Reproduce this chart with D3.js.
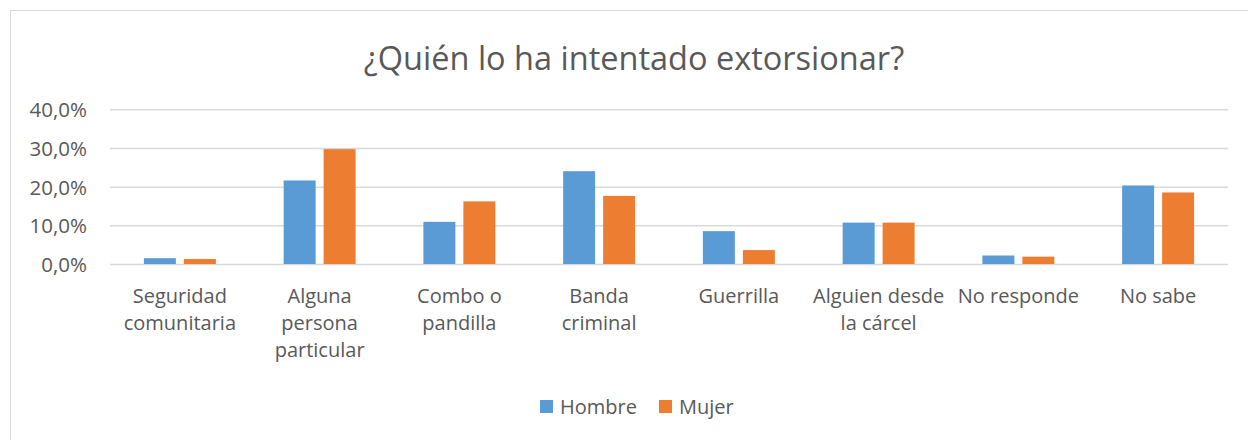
<!DOCTYPE html>
<html>
<head>
<meta charset="utf-8">
<script src="https://cdn.jsdelivr.net/npm/d3@7"></script>
<style>
  body { margin: 0; background: #fff; }
  svg { display: block; font-family: "Open Sans", sans-serif; }
  .grid line { stroke: #d9d9d9; stroke-width: 1.5; }
  .grid .domain { display: none; }
  .tick text { fill: #595959; }
</style>
</head>
<body>
<svg id="svg" width="1248" height="440"></svg>
<script>
// datos del grafico
var categorias = [
  'Seguridad\ncomunitaria',
  'Alguna\npersona\nparticular',
  'Combo o\npandilla',
  'Banda\ncriminal',
  'Guerrilla',
  'Alguien desde\nla cárcel',
  'No responde',
  'No sabe'
];
var series = ['Hombre', 'Mujer'];
var hombre = [1.5, 21.6, 10.9, 24.0, 8.5, 10.7, 2.2, 20.3];
var mujer = [1.3, 29.7, 16.2, 17.6, 3.6, 10.7, 1.9, 18.5];
var ticksY = [0, 10, 20, 30, 40];
var colores = ['#5b9bd5', '#ed7d31'];

var sample = categorias.map((c, i) => ({ elemento: c, valores: [hombre[i], mujer[i]] }));

var svg = d3.select('svg');

// borde del area del grafico
svg.append('rect')
  .attr('x', 10.5)
  .attr('y', 10.5)
  .attr('width', 1260)
  .attr('height', 460)
  .attr('fill', 'none')
  .attr('stroke', '#d9d9d9')
  .attr('stroke-width', 1);

var plotLeft = 110, plotRight = 1228, plotTop = 109.3, plotBottom = 264;

var xScale = d3.scaleBand()
  .domain(categorias)
  .range([plotLeft, plotRight])
  .paddingInner(0.485)
  .paddingOuter(0.2425);

var xSub = d3.scaleBand()
  .domain(series)
  .range([0, xScale.bandwidth()])
  .paddingInner(0.2);

var yScale = d3.scaleLinear()
  .domain([0, 40])
  .range([plotBottom, plotTop]);

// lineas horizontales
svg.append('g')
  .attr('class', 'grid')
  .attr('transform', `translate(${plotLeft}, 0)`)
  .call(d3.axisLeft(yScale)
    .tickValues(ticksY)
    .tickSize(-(plotRight - plotLeft))
    .tickFormat(''));

// etiquetas eje y
svg.append('g')
  .attr('transform', `translate(87, 0)`)
  .call(d3.axisLeft(yScale)
    .tickValues(ticksY)
    .tickSize(0)
    .tickPadding(0)
    .tickFormat(d => d.toFixed(1).replace('.', ',') + '%'))
  .call(g => g.select('.domain').remove())
  .selectAll('text')
  .attr('font-size', 20.5)
  .attr('font-family', '"Open Sans", sans-serif')
  .attr('dy', '0.36em');

// barras
var barGroups = svg.selectAll('.grupo')
  .data(sample)
  .enter()
  .append('g')
  .attr('class', 'grupo')
  .attr('transform', d => `translate(${xScale(d.elemento)}, 0)`);

barGroups.selectAll('rect')
  .data(d => d.valores.map((v, i) => ({ serie: series[i], value: v })))
  .enter()
  .append('rect')
  .attr('x', d => xSub(d.serie))
  .attr('y', d => yScale(d.value))
  .attr('width', xSub.bandwidth())
  .attr('height', d => plotBottom - yScale(d.value))
  .attr('fill', d => colores[series.indexOf(d.serie)]);

// etiquetas eje x
var xLabels = svg.append('g')
  .selectAll('text')
  .data(categorias)
  .enter()
  .append('text')
  .attr('x', d => xScale(d) + xScale.bandwidth() / 2)
  .attr('y', 303)
  .attr('text-anchor', 'middle')
  .attr('font-size', 20)
  .attr('fill', '#595959');

xLabels.selectAll('tspan')
  .data(d => d.split('\n'))
  .enter()
  .append('tspan')
  .attr('x', function () { return d3.select(this.parentNode).attr('x'); })
  .attr('dy', (d, i) => i === 0 ? 0 : 27)
  .text(d => d);

// titulo
svg.append('text')
  .attr('x', 634)
  .attr('y', 70)
  .attr('text-anchor', 'middle')
  .attr('font-size', 32.5)
  .attr('fill', '#595959')
  .text('¿Quién lo ha intentado extorsionar?');

// leyenda
var legendX = [540, 659];
var legend = svg.selectAll('.leyenda')
  .data(series)
  .enter()
  .append('g')
  .attr('class', 'leyenda')
  .attr('transform', (d, i) => `translate(${legendX[i]}, 400)`);

legend.append('rect')
  .attr('width', 13)
  .attr('height', 13)
  .attr('fill', (d, i) => colores[i]);

legend.append('text')
  .attr('x', 20)
  .attr('y', 14)
  .attr('font-size', 20)
  .attr('fill', '#595959')
  .text(d => d);
</script>
</body>
</html>
